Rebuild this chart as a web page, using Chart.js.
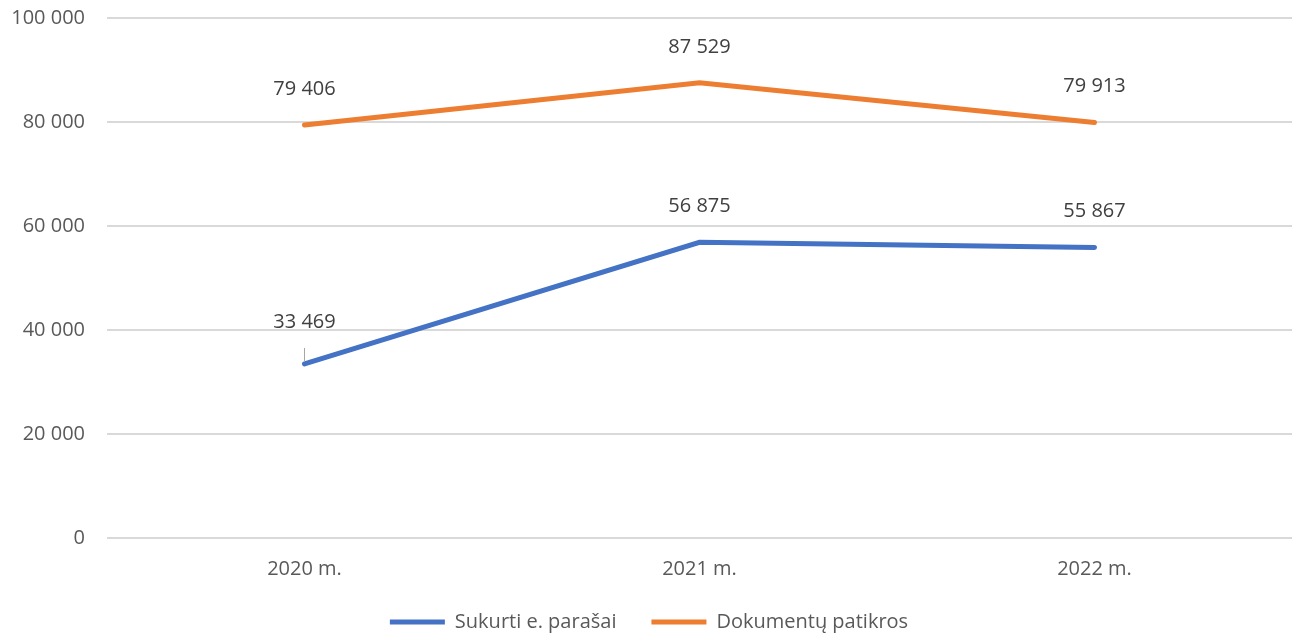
<!DOCTYPE html>
<html>
<head>
<meta charset="utf-8">
<script src="https://cdn.jsdelivr.net/npm/chart.js@4"></script>
<style>
	body { margin: 0; background: #fff; }
	#wrap { width: 1297px; height: 637px; }
</style>
</head>
<body>
<div id="wrap"><canvas id="myChart"></canvas></div>
<script>
var categories = ['2020 m.', '2021 m.', '2022 m.'];
var seriesNames = ['Sukurti e. parašai', 'Dokumentų patikros'];
var parasai = [33469, 56875, 55867];
var patikros = [79406, 87529, 79913];
var yTicks = [0, 20000, 40000, 60000, 80000, 100000];

function fmt(v) {
	return String(v).replace(/\B(?=(\d{3})+(?!\d))/g, ' ');
}

// value labels above each point (like Excel data labels)
var valueLabels = {
	id: 'valueLabels',
	afterDatasetsDraw: function(chart) {
		var ctx = chart.ctx;
		ctx.save();
		ctx.font = '20px "Open Sans"';
		ctx.fillStyle = '#404040';
		ctx.textAlign = 'center';
		ctx.textBaseline = 'middle';
		chart.data.datasets.forEach(function(ds, i) {
			chart.getDatasetMeta(i).data.forEach(function(pt, j) {
				var off = 36;
				if (i === 0 && j === 0) {
					off = 42;
					// leader line
					ctx.strokeStyle = '#a6a6a6';
					ctx.lineWidth = 1;
					ctx.beginPath();
					ctx.moveTo(pt.x, pt.y - 16);
					ctx.lineTo(pt.x, pt.y - 2);
					ctx.stroke();
				}
				ctx.fillText(fmt(ds.data[j]), pt.x, pt.y - off);
			});
		});
		ctx.restore();
	}
};

new Chart(document.getElementById('myChart'), {
	type: 'line',
	data: {
		labels: categories,
		datasets: [{
			label: seriesNames[0],
			data: parasai,
			borderColor: '#4472C4',
			backgroundColor: '#4472C4',
			borderWidth: 5,
			borderCapStyle: 'round',
			pointRadius: 0,
			tension: 0
		}, {
			label: seriesNames[1],
			data: patikros,
			borderColor: '#ED7D31',
			backgroundColor: '#ED7D31',
			borderWidth: 5,
			borderCapStyle: 'round',
			pointRadius: 0,
			tension: 0
		}]
	},
	options: {
		responsive: true,
		maintainAspectRatio: false,
		animation: false,
		layout: { padding: { left: 6, right: 5, top: 18, bottom: -5 } },
		plugins: {
			tooltip: { enabled: false },
			legend: {
				position: 'bottom',
				labels: {
					usePointStyle: true,
					pointStyle: 'line',
					pointStyleWidth: 55,
					boxHeight: 20,
					padding: 35,
					color: '#595959',
					font: { family: '"Open Sans"', size: 20 }
				}
			}
		},
		scales: {
			x: {
				offset: true,
				afterFit: function(axis) { axis.height = 39; },
				grid: { display: false },
				border: { display: false },
				ticks: { color: '#595959', font: { family: '"Open Sans"', size: 20 }, padding: 11 }
			},
			y: {
				min: 0,
				max: 100000,
				afterBuildTicks: function(axis) {
					axis.ticks = yTicks.map(function(v) { return { value: v }; });
				},
				afterFit: function(axis) {
					axis.width = 101;
					axis.paddingTop = 0;
					axis.paddingBottom = 0;
				},
				grid: { color: '#d9d9d9', lineWidth: 2, drawTicks: false },
				border: { display: false },
				ticks: {
					color: '#595959',
					font: { family: '"Open Sans"', size: 20 },
					padding: 22,
					callback: function(v) { return fmt(v); }
				}
			}
		}
	},
	plugins: [valueLabels]
});
</script>
</body>
</html>
